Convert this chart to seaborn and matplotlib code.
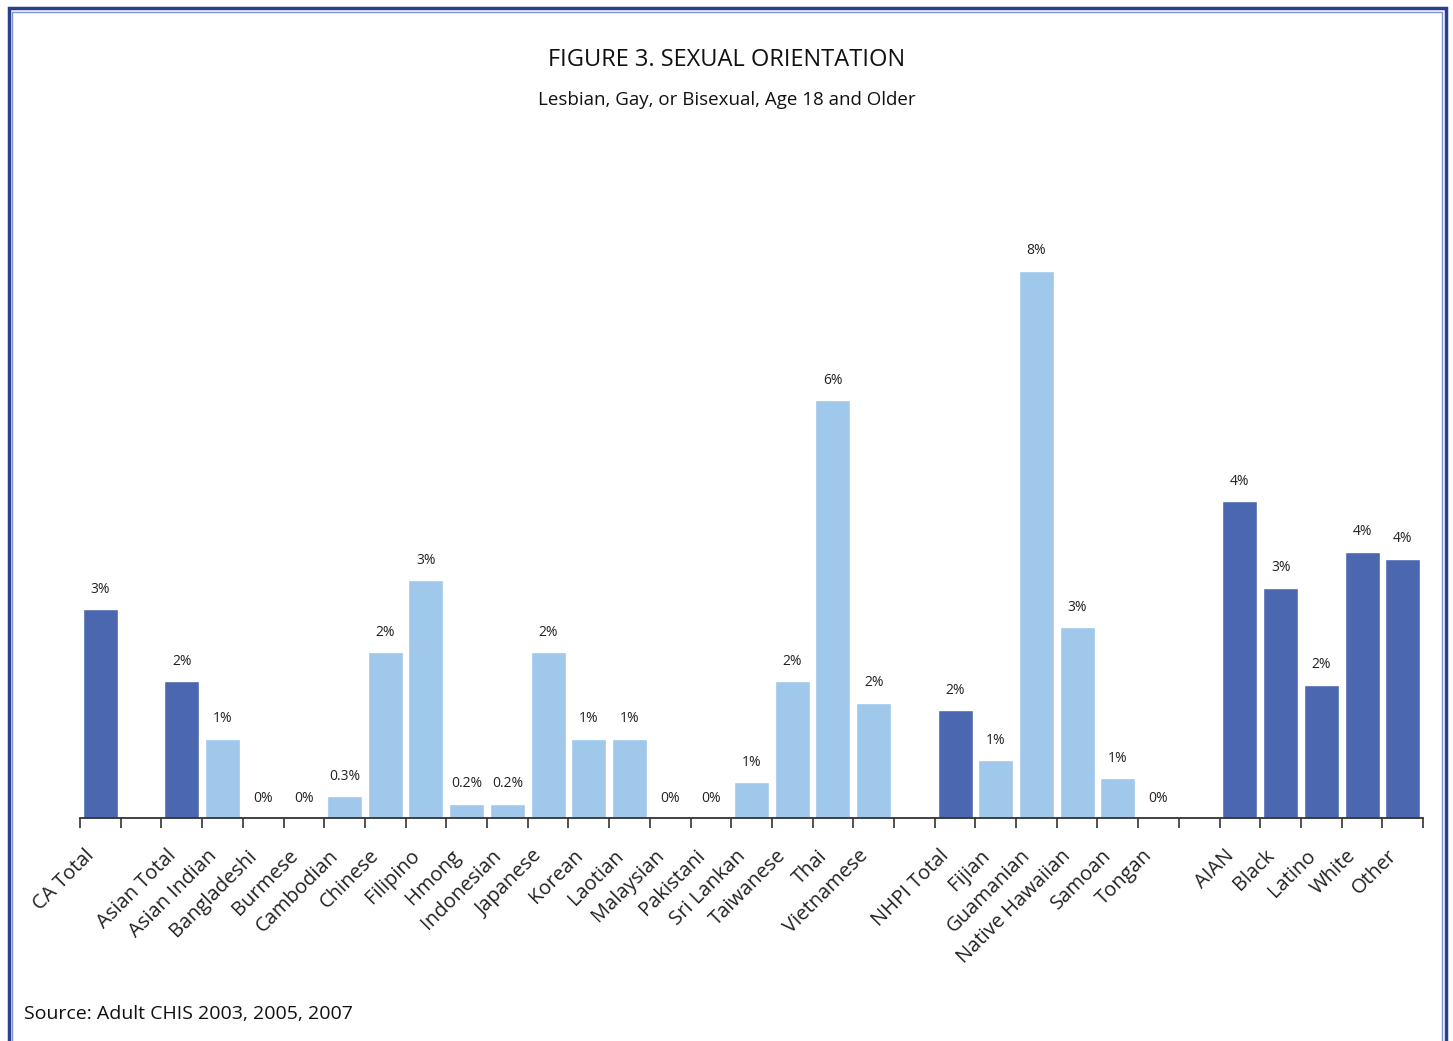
import numpy as np
import pandas as pd
import matplotlib.pyplot as plt
import matplotlib.transforms as mtransforms
import seaborn as sns
from matplotlib.patches import Rectangle

sns.set_style("white")
plt.rcParams["font.family"] = ["Open Sans", "DejaVu Sans"]

# slots in order, "" marks an empty gap between groups
slots = ["CA Total", "", "Asian Total", "Asian Indian", "Bangladeshi", "Burmese",
         "Cambodian", "Chinese", "Filipino", "Hmong", "Indonesian", "Japanese",
         "Korean", "Laotian", "Malaysian", "Pakistani", "Sri Lankan", "Taiwanese",
         "Thai", "Vietnamese", "", "NHPI Total", "Fijian", "Guamanian",
         "Native Hawaiian", "Samoan", "Tongan", "", "AIAN", "Black", "Latino",
         "White", "Other"]

groups = ["CA Total", "Asian Total", "Asian Indian", "Bangladeshi", "Burmese",
          "Cambodian", "Chinese", "Filipino", "Hmong", "Indonesian", "Japanese",
          "Korean", "Laotian", "Malaysian", "Pakistani", "Sri Lankan", "Taiwanese",
          "Thai", "Vietnamese", "NHPI Total", "Fijian", "Guamanian",
          "Native Hawaiian", "Samoan", "Tongan", "AIAN", "Black", "Latino",
          "White", "Other"]
values = [2.9, 1.9, 1.1, 0, 0, 0.3, 2.3, 3.3, 0.2, 0.2, 2.3, 1.1, 1.1, 0, 0,
          0.5, 1.9, 5.8, 1.6, 1.5, 0.8, 7.6, 2.65, 0.55, 0, 4.4, 3.2, 1.85,
          3.7, 3.6]
labels = ["3%", "2%", "1%", "0%", "0%", "0.3%", "2%", "3%", "0.2%", "0.2%",
          "2%", "1%", "1%", "0%", "0%", "1%", "2%", "6%", "2%", "2%", "1%",
          "8%", "3%", "1%", "0%", "4%", "3%", "2%", "4%", "4%"]
kind = ["total", "total"] + ["sub"] * 17 + ["total"] + ["sub"] * 5 + ["total"] * 5

order = [s if s else "gap%d" % i for i, s in enumerate(slots)]
df = pd.DataFrame({"group": groups, "value": values, "kind": kind, "label": labels})

fig = plt.figure(figsize=(14.53, 10.41), dpi=100)
ax = fig.add_axes([0.0551, 0.2142, 0.9243, 0.5937])

sns.barplot(data=df, x="group", y="value", hue="kind", order=order,
            palette={"total": "#4A67B0", "sub": "#9FC8EA"}, dodge=False,
            saturation=1, width=0.86, legend=False, ax=ax)

pos = {g: i for i, g in enumerate(order)}
for g, v, lab in zip(groups, values, labels):
    ax.annotate(lab, (pos[g], v), xytext=(0, 9), textcoords="offset points",
                ha="center", va="bottom", fontsize=10, color="#222222")

ax.set_xlim(-0.5, len(slots) - 0.5)
ax.set_ylim(0, 618 / 72)
ax.set_yticks([])
ax.set_xticks(np.arange(-0.5, len(slots), 1))
ax.set_xticklabels([])
ax.set_xticks(np.arange(len(slots)), minor=True)
ax.set_xticklabels(slots, minor=True, rotation=45, ha="right",
                   rotation_mode="anchor", fontsize=14.5, color="#222222")
ax.tick_params(axis="x", which="major", direction="out", length=7, width=1.2,
               color="#333333", bottom=True)
ax.tick_params(axis="x", which="minor", length=0, pad=20)
shift = mtransforms.ScaledTranslation(-16 / 100, 0, fig.dpi_scale_trans)
for t in ax.get_xticklabels(minor=True):
    t.set_transform(t.get_transform() + shift)
ax.set_xlabel("")
ax.set_ylabel("")
for s in ["top", "right", "left"]:
    ax.spines[s].set_visible(False)
ax.spines["bottom"].set_color("#333333")
ax.spines["bottom"].set_linewidth(1.3)

fig.text(0.5, 0.942, "FIGURE 3. SEXUAL ORIENTATION", ha="center", va="center",
         fontsize=17, color="#111111")
fig.text(0.5, 0.904, "Lesbian, Gay, or Bisexual, Age 18 and Older", ha="center",
         va="center", fontsize=13.5, color="#111111")
fig.text(0.0165, 0.026, "Source: Adult CHIS 2003, 2005, 2007", ha="left",
         va="center", fontsize=14, color="#111111")

# double frame
fig.patches.append(Rectangle((8.5 / 1453, -0.05), (1446 - 8.5) / 1453, 1.05 - 8.5 / 1041,
                             transform=fig.transFigure, fill=False,
                             edgecolor="#2B3F92", linewidth=2.5))
fig.patches.append(Rectangle((12 / 1453, -0.05), (1442 - 12) / 1453, 1.05 - 12 / 1041,
                             transform=fig.transFigure, fill=False,
                             edgecolor="#7F93C8", linewidth=1))

fig.savefig("out.png", dpi=100)
